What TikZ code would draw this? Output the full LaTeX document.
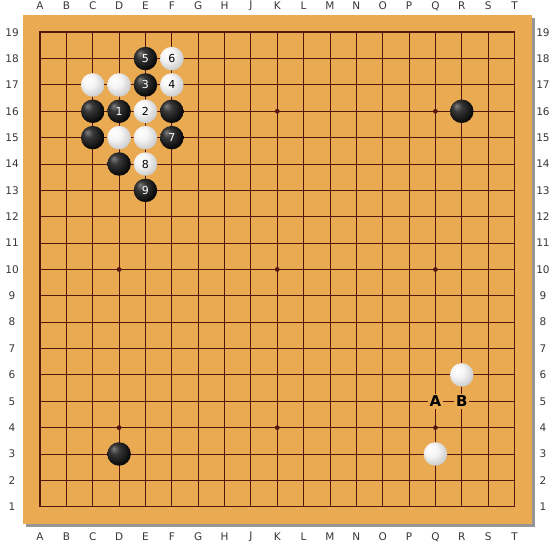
\documentclass[tikz,border=0pt]{standalone}
\usepackage{fontspec}
\setmainfont{DejaVu Sans}
\definecolor{boardwood}{RGB}{233,170,82}
\definecolor{gridline}{RGB}{85,22,12}
\definecolor{coordtext}{RGB}{55,55,55}
\definecolor{boardshadow}{RGB}{150,150,150}
\pgfdeclareradialshading{bstone}{\pgfpoint{-12bp}{12bp}}{color(0bp)=(black!50); color(10bp)=(black!78); color(32bp)=(black); color(50bp)=(black)}
\pgfdeclareradialshading{wstone}{\pgfpoint{-12bp}{12bp}}{color(0bp)=(white); color(14bp)=(white!96!black); color(38bp)=(black!28); color(50bp)=(black!40)}
\tikzset{
  stone/.style={circle, minimum size=23.5pt, inner sep=0pt, font=\fontsize{11}{13}\selectfont},
  blackstone/.style={stone, shading=bstone, text=white},
  whitestone/.style={stone, shading=wstone, text=black},
  coordlabel/.style={text=coordtext, font=\fontsize{10.5}{12}\selectfont, inner sep=0pt},
  pointmark/.style={fill=boardwood, inner sep=1.8pt, font=\bfseries\fontsize{15}{17}\selectfont},
}
\begin{document}
\begin{tikzpicture}[x=26.36pt, y=26.36pt]
\useasboundingbox (-0.5175,-0.7185) rectangle (20.537,20.222);
\fill[white] (-0.5175,-0.7185) rectangle (20.537,20.222);
% board and shadow
\fill[boardshadow] (0.455,0.235) rectangle (19.765,19.545);
\fill[boardwood] (0.345,0.345) rectangle (19.655,19.655);
% grid
\foreach \i in {2,...,18} {
  \draw[gridline, line width=0.9pt] (\i,1) -- (\i,19);
  \draw[gridline, line width=0.9pt] (1,\i) -- (19,\i);
}
\draw[gridline, line width=1.6pt] (1,1) rectangle (19,19);
% star points
\foreach \x in {4,10,16}
  \foreach \y in {4,10,16}
    \fill[gridline] (\x,\y) circle (0.09);
% coordinates
\foreach \col [count=\i] in {A,B,C,D,E,F,G,H,J,K,L,M,N,O,P,Q,R,S,T} {
  \node[coordlabel] (top\col) at (\i,20.0) {\col};
  \node[coordlabel] (bot\col) at (\i,-0.15) {\col};
}
\foreach \i in {1,...,19} {
  \node[coordlabel] (left\i) at (-0.06,\i) {\i};
  \node[coordlabel] (right\i) at (20.08,\i) {\i};
}
% black stones
\node[blackstone] (E18) at (5,18) {5};
\node[blackstone] (E17) at (5,17) {3};
\node[blackstone] (C16) at (3,16) {};
\node[blackstone] (D16) at (4,16) {1};
\node[blackstone] (F16) at (6,16) {};
\node[blackstone] (C15) at (3,15) {};
\node[blackstone] (F15) at (6,15) {7};
\node[blackstone] (D14) at (4,14) {};
\node[blackstone] (E13) at (5,13) {9};
\node[blackstone] (R16) at (17,16) {};
\node[blackstone] (D3) at (4,3) {};
% white stones
\node[whitestone] (F18) at (6,18) {6};
\node[whitestone] (C17) at (3,17) {};
\node[whitestone] (D17) at (4,17) {};
\node[whitestone] (F17) at (6,17) {4};
\node[whitestone] (E16) at (5,16) {2};
\node[whitestone] (D15) at (4,15) {};
\node[whitestone] (E15) at (5,15) {};
\node[whitestone] (E14) at (5,14) {8};
\node[whitestone] (R6) at (17,6) {};
\node[whitestone] (Q3) at (16,3) {};
% marked points
\node[pointmark] (markA) at (16,5) {A};
\node[pointmark] (markB) at (17,5) {B};
\end{tikzpicture}
\end{document}
